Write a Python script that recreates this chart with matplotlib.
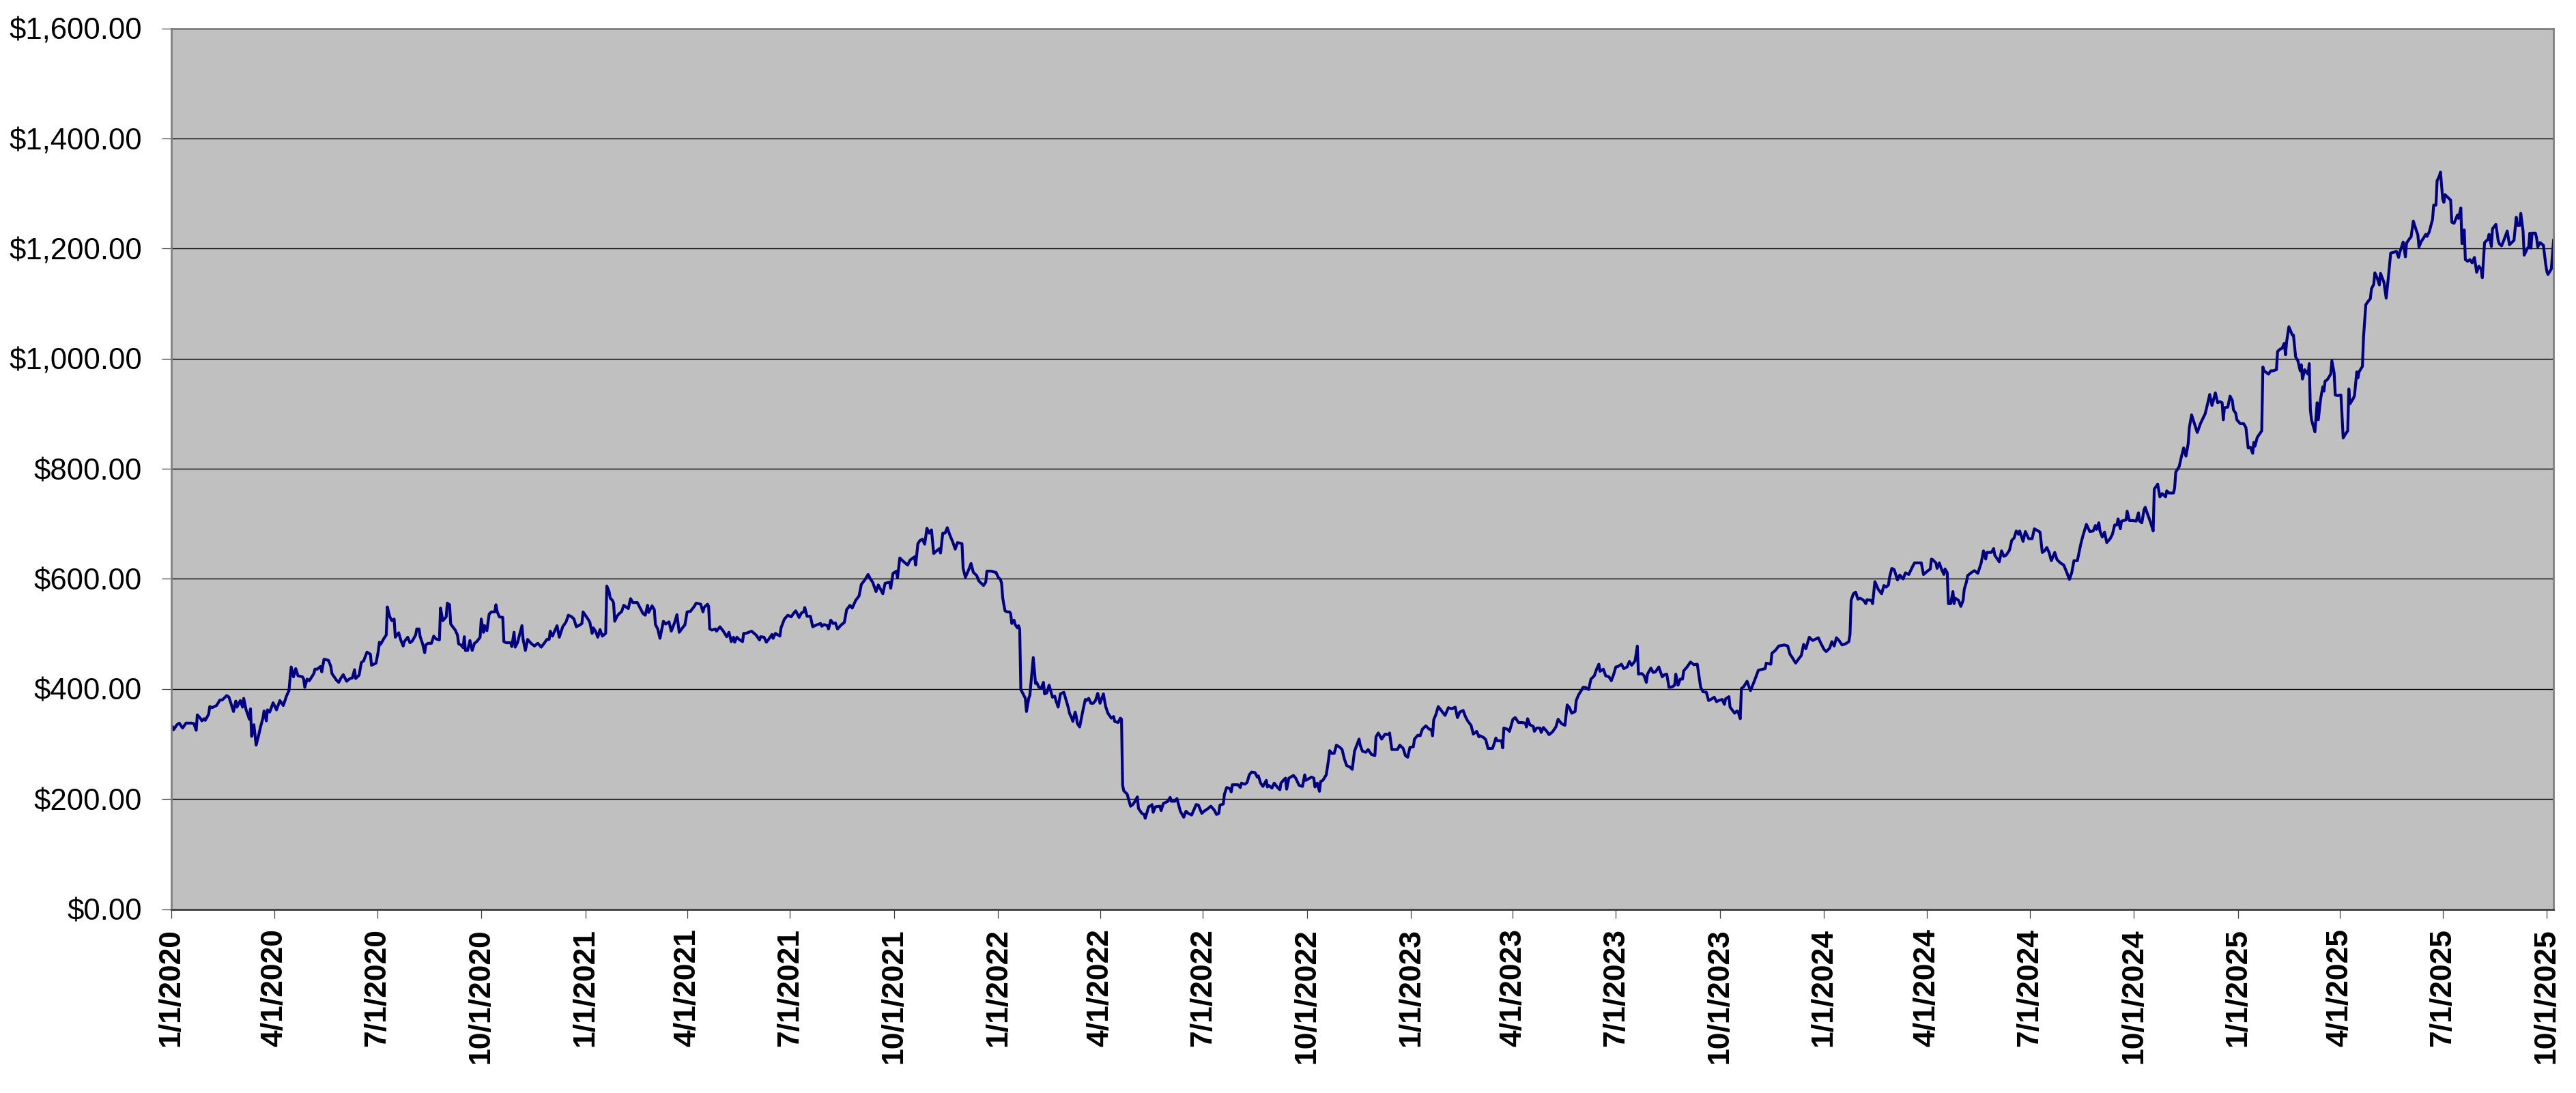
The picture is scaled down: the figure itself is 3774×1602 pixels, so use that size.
import numpy as np
import pandas as pd
import matplotlib
matplotlib.use('Agg')
import matplotlib.pyplot as plt
import matplotlib.dates as mdates
from matplotlib.ticker import FuncFormatter, StrMethodFormatter

# ── Data (days since START_DATE, closing price) ────────────────────────────────
START_DATE = "2020-01-01"
END_DATE   = "2025-10-07"

days_a = [1, 2, 5, 7, 10, 13, 18, 20, 22, 23, 26, 27, 29, 30, 33, 34, 36, 40, 43, 45,
          49, 51, 53, 55, 57, 58, 61, 63, 64, 66, 69, 70, 71, 73, 75, 77, 79, 81, 82, 84,
          85, 87, 90, 93, 96, 99, 102, 104, 105, 106, 108, 110, 112, 116, 117, 118, 120, 122, 126, 127,
          129, 132, 133, 135, 139, 141, 142, 146, 148, 150, 152, 155, 158, 160, 162, 163, 166, 168, 170, 173,
          176, 177, 181, 183, 184, 185, 188, 190, 191, 193, 195, 197, 198, 201, 203, 205, 206, 209, 211, 213,
          216, 217, 219, 220, 222, 224, 225, 227, 230, 232, 234, 237, 238, 240, 243, 244, 246, 247, 251, 253,
          254, 256, 258, 259, 260, 262, 264, 266, 268, 270, 273, 274, 276, 277, 279, 281, 283, 286, 287, 288,
          290, 293, 294, 296, 300, 301, 303, 304, 306, 310, 311, 313, 315, 318, 321, 324, 327, 330, 332, 334,
          335, 337, 338, 341, 343, 346, 349, 351, 354, 356, 358, 361, 363, 364]
close_a = [331, 326, 335, 338, 329, 338, 338, 337, 325, 353, 346, 342, 346, 343, 354, 368, 366, 370, 380, 380,
           388, 385, 372, 359, 378, 367, 379, 367, 383, 363, 345, 364, 314, 335, 298, 314, 332, 347, 360, 342,
           362, 358, 375, 362, 379, 370, 388, 397, 420, 440, 422, 437, 424, 422, 418, 403, 418, 415, 428, 436,
           436, 441, 431, 454, 452, 441, 428, 416, 412, 420, 426, 414, 419, 420, 435, 419, 425, 448, 451, 467,
           463, 443, 447, 469, 485, 481, 492, 498, 549, 532, 524, 527, 494, 502, 488, 478, 486, 494, 484, 487,
           498, 509, 509, 495, 483, 466, 480, 483, 483, 496, 491, 489, 547, 524, 531, 556, 553, 518, 507, 498,
           482, 480, 475, 495, 470, 470, 488, 470, 483, 486, 494, 527, 503, 515, 506, 536, 540, 540, 553, 541,
           531, 530, 486, 484, 484, 477, 503, 476, 484, 515, 490, 470, 490, 483, 478, 483, 476, 484, 490, 490,
           505, 496, 501, 515, 494, 513, 522, 534, 531, 527, 513, 516, 519, 540]

days_b = [369, 370, 372, 373, 375, 377, 379, 381, 384, 385, 387, 388, 390, 391, 392, 394, 396, 398, 400, 402,
          404, 406, 408, 412, 415, 417, 419, 421, 422, 425, 427, 428, 430, 432, 435, 437, 440, 442, 445, 447,
          449, 453, 454, 456, 459, 460, 462, 464, 468, 470, 471, 474, 475, 476, 478, 481, 482, 485, 488, 491,
          493, 495, 497, 498, 500, 502, 505, 506, 508, 513, 517, 520, 521, 524, 526, 528, 531, 532, 534, 538,
          539, 542, 545, 548, 550, 552, 555, 557, 559, 560, 562, 565, 567, 570, 574, 575, 577, 580, 581, 583,
          585, 587, 589, 592, 595, 597, 600, 602, 605, 608, 610, 613, 616, 618, 620, 623, 625, 629, 631, 635,
          636, 638, 641, 642, 644, 647, 651, 653, 655, 657, 658, 660, 662, 664, 666, 668, 670, 672, 674, 676,
          679, 680, 682, 684, 686, 688, 691, 693, 695, 699, 700, 702, 705, 707, 709, 712, 714]
close_b = [525, 521, 501, 511, 505, 494, 508, 496, 501, 587, 577, 565, 561, 556, 523, 532, 537, 540, 552, 549,
           546, 564, 557, 557, 545, 537, 534, 552, 539, 551, 544, 517, 509, 492, 523, 518, 522, 505, 521, 535,
           503, 514, 516, 540, 541, 544, 549, 556, 554, 540, 548, 554, 550, 509, 507, 509, 505, 513, 505, 495,
           503, 486, 494, 485, 494, 490, 486, 501, 501, 505, 498, 489, 495, 494, 485, 490, 499, 492, 501, 496,
           511, 527, 534, 531, 537, 542, 530, 538, 540, 548, 532, 532, 513, 516, 519, 514, 517, 515, 509, 525,
           519, 520, 509, 516, 521, 544, 552, 547, 561, 569, 590, 598, 608, 600, 594, 577, 589, 573, 592, 594,
           583, 610, 614, 602, 638, 632, 625, 634, 637, 640, 625, 664, 670, 672, 663, 692, 683, 689, 646, 650,
           655, 647, 683, 683, 693, 681, 666, 654, 666, 664, 619, 603, 617, 628, 612, 606, 596]

days_c = [718, 720, 721, 725, 728, 729, 731, 733, 734, 735, 737, 739, 741, 742, 743, 745, 746, 748, 749, 750,
          751, 753, 755, 756, 758, 759, 760, 762, 764, 765, 767, 769, 771, 772, 774, 776, 778, 779, 781, 782,
          784, 786, 789, 790, 793, 794, 796, 797, 799, 800, 801, 803, 806, 808, 809, 811, 813, 815, 817, 819,
          821, 824, 826, 828, 831, 833, 834, 837, 839, 840, 841, 842, 845, 848, 850, 852, 854, 855, 858, 860,
          861, 864, 866, 867, 868, 870, 874, 875, 877, 881, 883, 884, 887, 889, 892, 895, 897, 899, 902, 906,
          908, 911, 913, 916, 919, 922, 924, 926, 927, 930, 931, 933, 936, 937, 938, 943, 945, 946, 949, 951,
          953, 955, 958, 960, 961, 963, 965, 968, 969, 970, 973, 975, 978, 980, 981, 983, 985, 986, 988, 992,
          994, 997, 1000, 1002, 1003, 1008, 1010, 1011, 1013, 1015, 1016, 1018, 1021, 1023, 1024, 1026, 1028, 1030, 1033, 1035,
          1037, 1039, 1042, 1044, 1046, 1048, 1050, 1051, 1053, 1056, 1058, 1061, 1064, 1065, 1067, 1070, 1073, 1076, 1077, 1079,
          1084, 1086, 1089, 1091]
close_c = [588, 594, 614, 614, 612, 612, 603, 599, 592, 565, 542, 540, 540, 537, 519, 525, 517, 511, 515, 509,
           399, 391, 383, 359, 383, 389, 412, 457, 410, 412, 403, 401, 412, 391, 393, 407, 392, 385, 387, 379,
           367, 391, 394, 387, 366, 356, 347, 341, 358, 350, 337, 331, 362, 381, 379, 383, 374, 374, 379, 392,
           374, 391, 368, 356, 347, 350, 341, 339, 347, 345, 225, 215, 209, 187, 190, 196, 204, 183, 174, 172,
           165, 186, 188, 190, 176, 186, 187, 179, 192, 196, 203, 196, 196, 201, 178, 167, 178, 174, 171, 190,
           189, 174, 178, 182, 187, 180, 172, 174, 189, 191, 209, 221, 219, 213, 226, 226, 221, 229, 227, 230,
           244, 249, 248, 240, 242, 229, 223, 234, 222, 225, 220, 229, 221, 217, 229, 234, 238, 218, 238, 243,
           238, 225, 223, 244, 234, 240, 238, 222, 229, 214, 232, 234, 244, 271, 288, 283, 283, 298, 294, 290,
           273, 261, 258, 254, 287, 298, 309, 298, 287, 285, 290, 281, 279, 313, 320, 309, 318, 317, 320, 290,
           290, 298, 292, 279]

days_d = [1093, 1095, 1098, 1099, 1102, 1104, 1106, 1109, 1112, 1114, 1115, 1116, 1118, 1120, 1123, 1126, 1129, 1132, 1135, 1137,
          1139, 1142, 1144, 1146, 1149, 1151, 1154, 1156, 1157, 1160, 1162, 1164, 1168, 1169, 1171, 1172, 1176, 1177, 1178, 1181,
          1183, 1185, 1186, 1188, 1191, 1194, 1197, 1198, 1199, 1201, 1204, 1205, 1207, 1210, 1211, 1213, 1216, 1218, 1221, 1224,
          1226, 1229, 1232, 1234, 1236, 1238, 1241, 1242, 1244, 1247, 1248, 1250, 1253, 1255, 1258, 1260, 1262, 1263, 1266, 1268,
          1271, 1273, 1275, 1277, 1279, 1282, 1284, 1287, 1289, 1291, 1294, 1296, 1297, 1300, 1302, 1304, 1305, 1308, 1310, 1312,
          1315, 1316, 1318, 1320, 1322, 1324, 1327, 1329, 1330, 1332, 1334, 1336, 1337, 1340, 1343, 1346, 1349, 1352, 1354, 1357,
          1359, 1361, 1364, 1366, 1368, 1371, 1373, 1374, 1377, 1378, 1382, 1384, 1385, 1387, 1388, 1390, 1393, 1396, 1399, 1403,
          1407, 1409, 1410, 1414, 1415, 1418, 1421, 1426, 1429, 1431, 1433, 1436, 1438, 1441, 1443, 1445, 1448, 1451, 1453]
close_d = [276, 294, 295, 309, 316, 315, 327, 333, 327, 326, 315, 344, 354, 368, 360, 352, 366, 364, 367, 348,
           358, 361, 350, 342, 334, 318, 323, 313, 315, 312, 308, 292, 292, 298, 311, 306, 306, 293, 329, 327,
           323, 338, 345, 348, 339, 339, 338, 331, 346, 335, 332, 323, 329, 329, 321, 330, 323, 317, 322, 331,
           345, 337, 334, 371, 366, 356, 359, 379, 389, 399, 403, 403, 399, 418, 424, 436, 445, 432, 436, 424,
           422, 415, 426, 440, 441, 445, 437, 440, 450, 443, 451, 478, 427, 428, 424, 412, 427, 438, 430, 431,
           440, 434, 422, 426, 427, 403, 404, 407, 427, 407, 418, 418, 433, 440, 449, 444, 445, 403, 395, 394,
           379, 381, 385, 377, 379, 381, 372, 382, 386, 367, 356, 360, 359, 346, 401, 404, 414, 397, 412, 434,
           436, 437, 447, 445, 465, 470, 478, 480, 478, 463, 457, 447, 453, 461, 481, 473, 494, 488, 490]

days_e = [1456, 1458, 1461, 1463, 1466, 1468, 1470, 1472, 1474, 1477, 1480, 1483, 1484, 1485, 1487, 1489, 1491, 1493, 1496, 1498,
          1499, 1503, 1504, 1506, 1509, 1512, 1514, 1516, 1518, 1519, 1521, 1523, 1526, 1528, 1531, 1533, 1536, 1539, 1541, 1547,
          1549, 1553, 1555, 1556, 1557, 1560, 1561, 1563, 1565, 1567, 1568, 1570, 1571, 1573, 1575, 1576, 1577, 1580, 1582, 1584,
          1585, 1587, 1588, 1591, 1594, 1597, 1600, 1602, 1604, 1605, 1609, 1611, 1612, 1614, 1616, 1618, 1620, 1622, 1625, 1627,
          1629, 1631, 1633, 1634, 1637, 1639, 1642, 1645, 1647, 1652, 1654, 1656, 1658, 1660, 1662, 1665, 1667, 1670, 1673, 1675,
          1678, 1680, 1682, 1685, 1688, 1690, 1693, 1696, 1699, 1701, 1702, 1704, 1705, 1707, 1709, 1711, 1714, 1716, 1718, 1720,
          1721, 1723, 1724, 1728, 1729, 1731, 1734, 1737, 1739, 1740, 1742, 1744, 1745, 1747, 1750, 1752, 1753, 1756, 1758, 1760,
          1763, 1764, 1766, 1770, 1771, 1772, 1775, 1777, 1779, 1781, 1783, 1784, 1786, 1788, 1791, 1794, 1798, 1800, 1802, 1804,
          1807, 1809, 1811, 1813, 1814, 1815]
close_e = [493, 484, 472, 468, 474, 486, 478, 493, 489, 480, 482, 486, 499, 561, 573, 576, 563, 565, 561, 555,
           562, 561, 555, 595, 581, 573, 588, 585, 589, 603, 619, 617, 598, 607, 600, 611, 608, 621, 629, 629,
           608, 615, 618, 636, 635, 629, 619, 629, 617, 608, 618, 611, 555, 555, 577, 555, 565, 561, 550, 561,
           581, 595, 606, 611, 615, 610, 629, 651, 636, 648, 648, 655, 643, 637, 631, 651, 641, 643, 652, 670,
           674, 687, 681, 687, 668, 686, 673, 673, 691, 685, 648, 651, 657, 648, 633, 648, 635, 629, 625, 615,
           599, 611, 633, 633, 663, 679, 699, 686, 687, 697, 690, 702, 687, 676, 685, 666, 673, 681, 698, 698,
           709, 691, 705, 707, 723, 706, 706, 705, 720, 705, 702, 726, 730, 718, 701, 687, 763, 772, 749, 755,
           749, 760, 756, 756, 765, 794, 804, 822, 838, 823, 846, 875, 898, 885, 866, 883, 900, 917, 935, 915,
           938, 920, 922, 920, 889, 911]

days_f = [1818, 1820, 1822, 1823, 1825, 1826, 1829, 1832, 1834, 1836, 1838, 1840, 1841, 1842, 1844, 1846, 1848, 1849, 1850, 1854,
          1856, 1858, 1861, 1862, 1864, 1866, 1868, 1869, 1870, 1872, 1874, 1875, 1876, 1878, 1880, 1882, 1883, 1884, 1886, 1888,
          1889, 1890, 1891, 1892, 1895, 1897, 1898, 1900, 1901, 1902, 1903, 1904, 1906, 1909, 1910, 1912, 1913, 1915, 1918, 1920,
          1922, 1924, 1925, 1926, 1929, 1930, 1932, 1933, 1934, 1937, 1938, 1940, 1942, 1944, 1945, 1947, 1948, 1950, 1952, 1953,
          1956, 1958, 1960, 1962, 1964, 1967, 1969, 1970, 1973, 1975, 1976, 1979, 1980, 1982, 1984, 1986, 1987, 1989, 1991, 1993,
          1994, 1996, 1999, 2000, 2002, 2003, 2005, 2006, 2008, 2009, 2010, 2012, 2015, 2016, 2018, 2021, 2022, 2024, 2025, 2026,
          2027, 2028, 2030, 2032, 2034, 2036, 2038, 2040, 2042, 2043, 2044, 2045, 2048, 2049, 2051, 2052, 2055, 2057, 2058, 2060,
          2062, 2064, 2065, 2067, 2069, 2071, 2073, 2074, 2076, 2077, 2079, 2080, 2083, 2084, 2085, 2086, 2087, 2090, 2091, 2092,
          2094, 2097, 2099, 2100, 2101, 2104, 2106]
close_f = [912, 932, 924, 907, 901, 889, 882, 882, 875, 838, 839, 828, 848, 841, 857, 863, 869, 985, 978, 972,
           978, 978, 980, 1013, 1017, 1019, 1028, 1007, 1031, 1058, 1048, 1043, 1043, 1003, 996, 978, 989, 963, 980, 974,
           972, 991, 907, 889, 867, 920, 889, 926, 938, 949, 941, 959, 962, 972, 996, 974, 934, 933, 934, 856,
           863, 869, 945, 918, 928, 933, 976, 965, 976, 986, 1040, 1098, 1104, 1109, 1127, 1135, 1156, 1147, 1134, 1155,
           1139, 1110, 1149, 1192, 1193, 1195, 1184, 1193, 1212, 1185, 1210, 1219, 1221, 1250, 1237, 1225, 1203, 1213, 1219, 1226,
           1222, 1230, 1253, 1279, 1279, 1323, 1332, 1339, 1290, 1284, 1298, 1294, 1288, 1248, 1246, 1261, 1255, 1274, 1209, 1212,
           1234, 1180, 1177, 1180, 1174, 1184, 1157, 1168, 1162, 1147, 1180, 1211, 1217, 1226, 1204, 1236, 1244, 1215, 1209, 1205,
           1215, 1226, 1232, 1207, 1211, 1215, 1257, 1242, 1242, 1264, 1232, 1188, 1201, 1203, 1228, 1201, 1228, 1228, 1219, 1203,
           1211, 1206, 1172, 1159, 1153, 1163, 1215]

y_ticks = [0, 200, 400, 600, 800, 1000, 1200, 1400, 1600]

# ── Assemble ───────────────────────────────────────────────────────────────────
day_offset = days_a + days_b + days_c + days_d + days_e + days_f
close      = close_a + close_b + close_c + close_d + close_e + close_f
assert len(day_offset) == len(close), (len(day_offset), len(close))
dates = pd.Timestamp(START_DATE) + pd.to_timedelta(day_offset, unit='D')

plt.rcParams['font.family'] = ['Liberation Sans', 'DejaVu Sans']

# ── Plot ───────────────────────────────────────────────────────────────────────
fig = plt.figure(figsize=(37.74, 16.02), dpi=100, facecolor='white')
ax = fig.add_axes([0.0665, 0.1682, 0.9248, 0.8058])
ax.set_facecolor('#c0c0c0')

ax.plot(dates, close, color='#000080', lw=3.0, solid_joinstyle='round')

ax.set_xlim(pd.Timestamp(START_DATE), pd.Timestamp(END_DATE))
ax.set_ylim(y_ticks[0], y_ticks[-1])
ax.set_yticks(y_ticks)
ax.yaxis.set_major_formatter(StrMethodFormatter('${x:,.2f}'))
ax.yaxis.grid(True, color='black', lw=1.0)
ax.set_axisbelow(True)

ax.xaxis.set_major_locator(mdates.MonthLocator(bymonth=[1, 4, 7, 10], bymonthday=1))
ax.xaxis.set_major_formatter(FuncFormatter(
    lambda x, pos: (lambda d: f"{d.month}/{d.day}/{d.year}")(mdates.num2date(x))))

for side in ('top', 'right', 'left'):
    ax.spines[side].set_color('#808080')
    ax.spines[side].set_linewidth(2.0)
ax.spines['bottom'].set_color('#404040')
ax.spines['bottom'].set_linewidth(2.0)

ax.tick_params(axis='y', direction='out', length=10, width=0.9, color='#404040',
               pad=21, labelsize=31.5, labelcolor='black')
ax.tick_params(axis='x', direction='out', length=9.5, width=0.9, color='#404040',
               pad=11, labelsize=32, labelcolor='black', labelrotation=90)
for lbl in ax.get_xticklabels():
    lbl.set_fontweight('bold')

fig.savefig('out.png', dpi=100, facecolor='white')
plt.close(fig)
